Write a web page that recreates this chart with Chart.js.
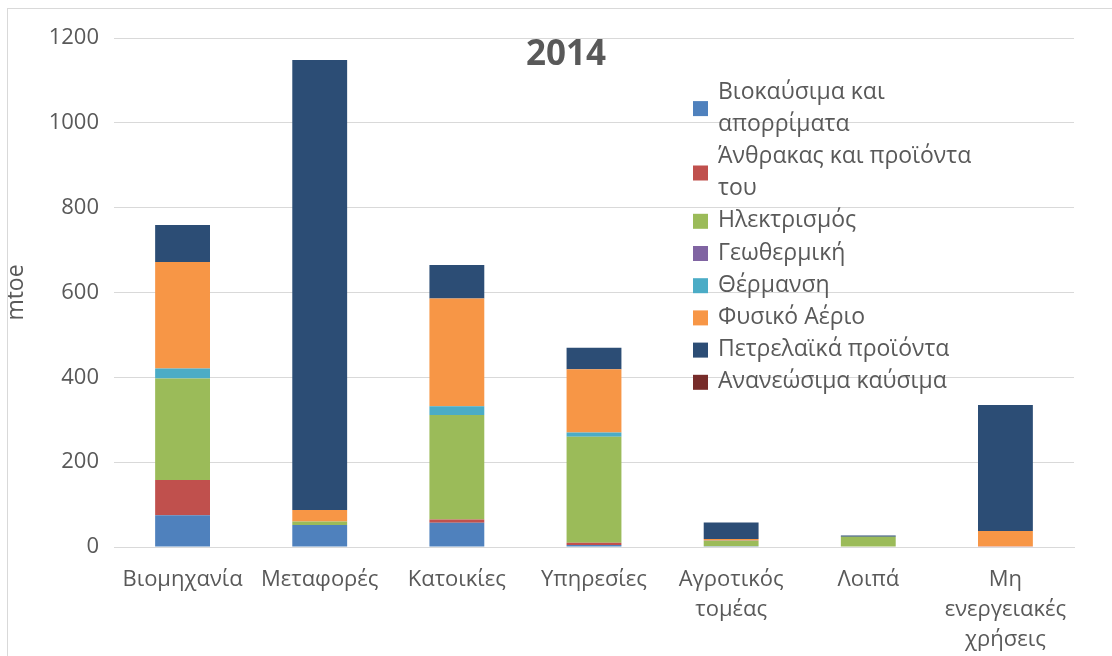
<!DOCTYPE html>
<html lang="el">
<head>
    <meta charset="UTF-8">
    <title>2014 - mtoe</title>
    <script src="https://cdn.jsdelivr.net/npm/chart.js"></script>
    <style>
        html, body { margin: 0; padding: 0; background: #fff; }
        #wrap { position: relative; width: 1112px; height: 656px; }
        #frame { position: absolute; left: 7px; top: 8px; right: -2px; bottom: -2px; border: 1px solid #d9d9d9; pointer-events: none; }
    </style>
</head>
<body>
    <div id="wrap">
        <canvas id="myChart" width="1112" height="656"></canvas>
        <div id="frame"></div>
    </div>

    <script>
        // categories (x axis)
        const categories = [
            'Βιομηχανία', 'Μεταφορές', 'Κατοικίες', 'Υπηρεσίες',
            ['Αγροτικός', 'τομέας'], 'Λοιπά', ['Μη', 'ενεργειακές', 'χρήσεις']
        ];

        // series names, as wrapped in the legend
        const seriesNames = [
            ['Βιοκαύσιμα και', 'απορρίματα'],
            ['Άνθρακας και προϊόντα', 'του'],
            ['Ηλεκτρισμός'],
            ['Γεωθερμική'],
            ['Θέρμανση'],
            ['Φυσικό Αέριο'],
            ['Πετρελαϊκά προϊόντα'],
            ['Ανανεώσιμα καύσιμα']
        ];

        // values (mtoe)
        const biofuels    = [75, 52, 57, 5, 2, 0, 0];
        const coal        = [83, 0, 8, 5, 0, 0, 2];
        const electricity = [239, 8, 246, 250, 12, 24, 0];
        const geothermal  = [0, 0, 0, 0, 0, 0, 0];
        const heat        = [24, 0, 21, 10, 1, 0, 0];
        const naturalGas  = [251, 27, 254, 149, 4, 0, 36];
        const oil         = [87, 1061, 79, 51, 39, 3, 297];
        const renewables  = [0, 0, 0, 0, 0, 0, 0];

        const seriesValues = [biofuels, coal, electricity, geothermal, heat, naturalGas, oil, renewables];
        const seriesColors = ['#4f81bd', '#c0504d', '#9bbb59', '#8064a2', '#4bacc6', '#f79646', '#2c4d75', '#772c2a'];

        const yTicks = [0, 200, 400, 600, 800, 1000, 1200];
        const chartTitle = '2014';
        const yTitle = 'mtoe';

        const textColor = '#595959';
        const fontFamily = "'Open Sans', 'Noto Sans', sans-serif";

        // title and wrapped legend drawn on the canvas
        const overlay = {
            id: 'overlay',
            afterDraw(chart) {
                const ctx = chart.ctx;
                ctx.save();
                ctx.fillStyle = textColor;
                ctx.textAlign = 'center';
                ctx.textBaseline = 'middle';
                ctx.font = "bold 35px " + fontFamily;
                ctx.fillText(chartTitle, 566, 55);

                ctx.font = "23px " + fontFamily;
                ctx.textAlign = 'left';
                let y = 92;
                const step = 32.2;
                seriesNames.forEach((lines, i) => {
                    const mid = y + (lines.length - 1) * step / 2;
                    ctx.fillStyle = seriesColors[i];
                    ctx.fillRect(693, mid - 7, 15, 15);
                    ctx.fillStyle = textColor;
                    lines.forEach(l => {
                        ctx.fillText(l, 718, y);
                        y += step;
                    });
                });
                ctx.restore();
            }
        };

        const ctx = document.getElementById('myChart').getContext('2d');
        const myChart = new Chart(ctx, {
            type: 'bar',
            data: {
                labels: categories,
                datasets: seriesValues.map((vals, i) => ({
                    label: seriesNames[i].join(' '),
                    data: vals,
                    backgroundColor: seriesColors[i],
                    borderWidth: 0,
                    barPercentage: 0.4,
                    categoryPercentage: 1
                }))
            },
            options: {
                responsive: false,
                animation: false,
                layout: { padding: { left: 0, top: 38, right: 38, bottom: 0 } },
                plugins: {
                    legend: { display: false },
                    title: { display: false },
                    tooltip: { enabled: false }
                },
                scales: {
                    x: {
                        stacked: true,
                        grid: { display: false, drawTicks: false },
                        border: { display: true, color: '#d9d9d9' },
                        ticks: {
                            color: textColor,
                            font: { family: fontFamily, size: 22, lineHeight: 1.36 },
                            padding: 18,
                            maxRotation: 0,
                            autoSkip: false
                        },
                        afterFit(scale) { scale.height = 109; }
                    },
                    y: {
                        stacked: true,
                        min: 0,
                        max: 1200,
                        afterBuildTicks(scale) { scale.ticks = yTicks.map(v => ({ value: v })); },
                        grid: { color: '#d9d9d9', drawTicks: false },
                        border: { display: false },
                        ticks: {
                            color: textColor,
                            font: { family: fontFamily, size: 22 },
                            padding: 15,
                            callback: v => String(v)
                        },
                        title: {
                            display: true,
                            text: yTitle,
                            color: textColor,
                            font: { family: fontFamily, size: 23 },
                            padding: { top: 3, bottom: 0 }
                        },
                        afterFit(scale) { scale.width = 114; }
                    }
                }
            },
            plugins: [overlay]
        });
    </script>
</body>
</html>
